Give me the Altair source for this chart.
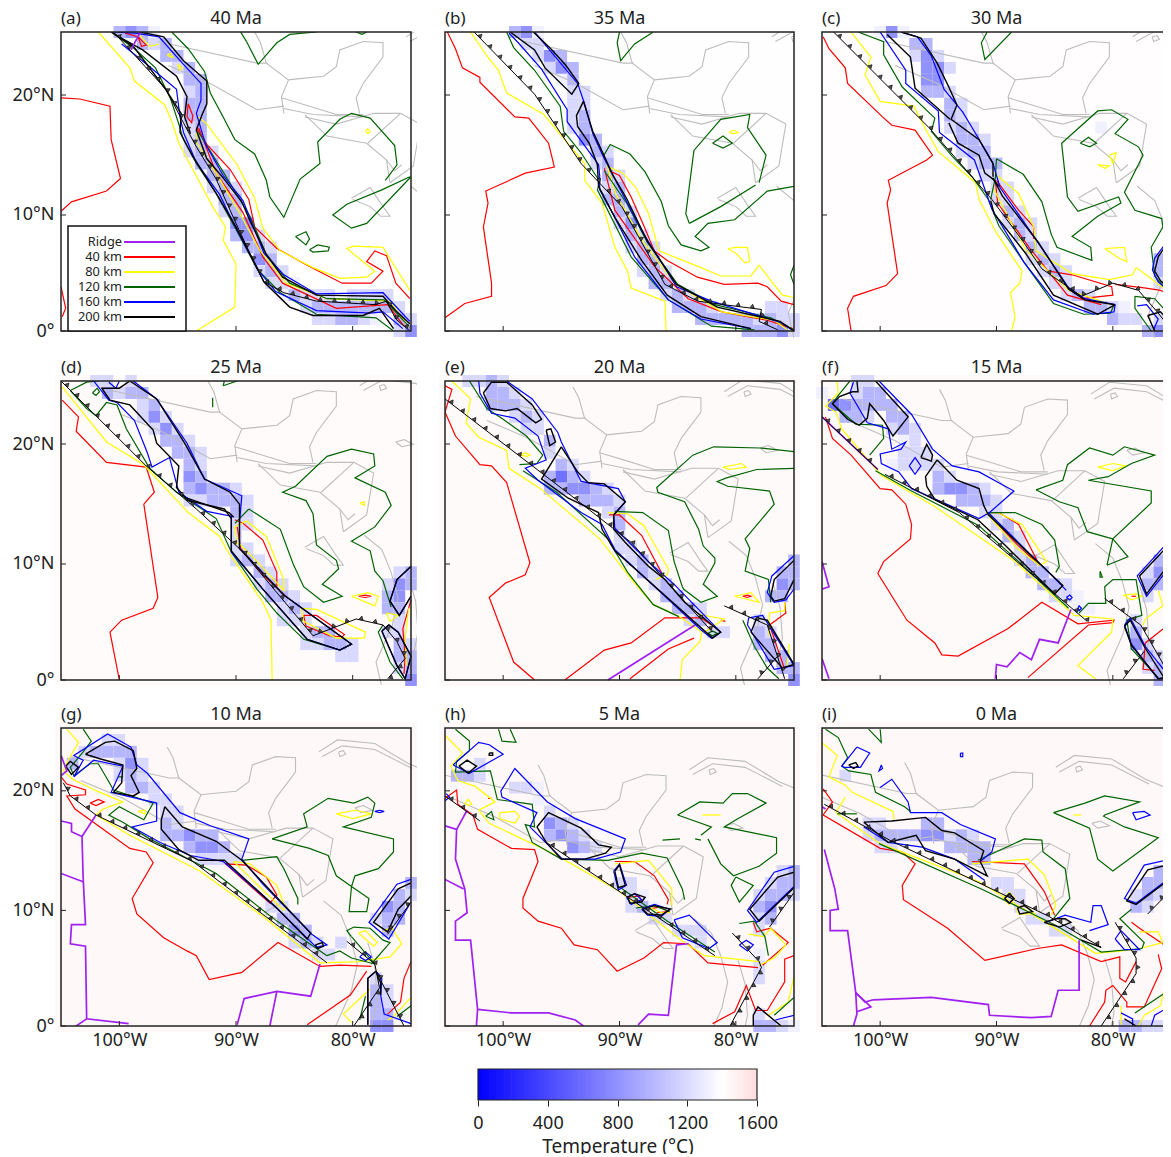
import math
import numpy as np
import pandas as pd
import altair as alt

FONT = "Noto Sans"
AGES = ["40 Ma", "35 Ma", "30 Ma", "25 Ma", "20 Ma", "15 Ma", "10 Ma", "5 Ma", "0 Ma"]
LETTERS = ["(a)", "(b)", "(c)", "(d)", "(e)", "(f)", "(g)", "(h)", "(i)"]
LEVELS = {"x": 620, "d": 800, "m": 1000, "l": 1190, "f": 1320}
BACKGROUND_T = [1402, 1406, 1410, 1425, 1430, 1430, 1438, 1440, 1442]

# coastline as seen at 25 Ma (deg W, deg N), and its shift in each panel
COAST = [
    [92.4, 25, 91.9, 24.1, 91.4, 22.4, 89.5, 21, 88.5, 21.1, 86.5, 21.3, 85.4, 22.1, 85.1, 23.5, 83.1, 24.2, 81.4, 24.1, 81.4, 22.9, 83.1, 20.7, 83.7, 19.5, 83.4, 18.2],
    [89.5, 21, 90.1, 19.6, 89.9, 18.2],
    [90.1, 19.5, 87.7, 18.8, 85.4, 18.1, 83.1, 18.1],
    [89.9, 18.6, 87.4, 18.1, 83.1, 17.9],
    [88.1, 17.9, 85.4, 17.3, 82.2, 18.2, 79.9, 18.2],
    [88.1, 18.1, 86.2, 16.3, 82.8, 15.7, 81.1, 14.3, 80.8, 12.4],
    [79.9, 18.2, 82.7, 15.7],
    [79.9, 18.2, 78.2, 17.3, 78.8, 13.8, 80.8, 12.4],
    [81.1, 14.3, 80.4, 13.4, 79.8, 13.9],
    [100.7, 24.2, 92.2, 22.4, 91.3, 22.4],
    [99.8, 22.2, 96.2, 20.7, 92.2, 18.5, 89.9, 18.8],
    [84.1, 11.1, 82.5, 12, 81.4, 10.4, 80.8, 9.6, 81.6, 9.6, 82.5, 10.4, 84, 11],
    [79.4, 24.6, 77.8, 25.6, 74.6, 25.3, 71.7, 23.6, 69.7, 22.8],
    [79.1, 24.2, 77.4, 25.1, 74.6, 24.8, 71.4, 23.2],
    [77.7, 24.6, 77.3, 24.7, 77.1, 24.4, 77.6, 24.2, 77.7, 24.6],
    [76.3, 19.9, 75.6, 20.1, 74.8, 19.7, 75.8, 19.5, 76.3, 19.9],
    [79, 12.1, 77.5, 10.9, 76.7, 9, 76.1, 6.8, 76.6, 4.6, 78, 1.5, 77.4, -1],
    [75.2, 8.6, 74.6, 6.6, 74.4, 4, 74.9, 1.6],
]
COAST_SHIFT = [(-4.0, 0), (-2.5, 0), (-1.1, 0), (0, 0), (1.6, -0.5), (2.5, -0.7), (3.5, -1.6), (4.6, -3.1), (5.5, -2.9)]

A = {
    "Ridge": [[98.2, 25, 99, 23.5]],
    "40 km": [
        [105, 19.5, 103.4, 19.4, 100.8, 18.8, 100.7, 16, 99.9, 12.75, 101.1, 11.7, 104.1, 10.8, 105, 10],
        [105, 3.7, 104.6, 1.9, 104.9, 1.2],
        [93.4, 17, 92.5, 15.6, 90.5, 13.5, 88.9, 11, 88.4, 8.7, 86.5, 6.9, 83.7, 5.4, 80.9, 4, 78.4, 4, 77.4, 5, 78.8, 5.8, 78.1, 6.7, 77.1, 6.3, 76.3, 4, 75.1, 2.7],
        [94.1, 19, 93.7, 18, 93.8, 17.4, 94.2, 17.9, 94.1, 19],
        [99.5, 24.9, 98.4, 24.6, 97.7, 23.9, 98.1, 23.8, 98.4, 24.6],
        [93.2, 17, 91.7, 13.2, 89.4, 9.9, 87.7, 6.2, 86, 4, 81.4, 1.9, 77, 2.2, 75.6, 0.4],
    ],
    "80 km": [
        [101.8, 25, 99.1, 22, 98.7, 20.9, 96.1, 18.9, 95.5, 17.5, 94.9, 15.7, 93.7, 13.5, 92, 10.4, 90.9, 8.7, 91.1, 7.6, 90, 5.6, 90.1, 2, 93.4, 0],
        [93.2, 17.9, 92.5, 17.3, 89.9, 13.9, 88.4, 11.1, 87.7, 8.6, 86.2, 6.7, 83.4, 5.3, 81.1, 4.4, 78.8, 4.5, 78.1, 5, 80.5, 6.9, 79.9, 7.1, 77.4, 7, 76.2, 5.1, 75.1, 3.4],
        [93.4, 16.6, 93.4, 15.8, 91.7, 13.2, 89.7, 9.9, 88, 6.8, 85.7, 4, 82.2, 2.7, 76.8, 2.5, 75.2, 0.3],
        [98.4, 24.9, 97.4, 23.8, 96.6, 24],
        [95.9, 23.1, 95.6, 22.9, 95.4, 22.9, 95.6, 23.2, 95.9, 23.1],
        [95, 22.3, 94.8, 21.8, 94.6, 22, 95, 22.3],
        [78.9, 16.7, 78.7, 16.9, 78.5, 16.7, 78.7, 16.5, 78.9, 16.7],
    ],
    "120 km": [
        [95.5, 25, 94.1, 23.6, 92.7, 21.7, 92.2, 19.9, 91.1, 17.9, 90.1, 16, 88.4, 14.8, 87.4, 12.6, 87.1, 11.2, 85.9, 9.5, 84.5, 12.7, 82.8, 14, 83, 15.8, 81.1, 17.7, 80.1, 18.2, 78.5, 17.8, 76.4, 15.5, 76.2, 13.9, 77.2, 12.6],
        [75.1, 12.9, 77.5, 11.8, 80.5, 10.6, 81.7, 9.7, 80.1, 8.6, 78.8, 9, 75, 12.9],
        [89.1, 24.2, 88.1, 22.3, 86.5, 24.1, 85.4, 24.8, 83.1, 25],
        [89.1, 24.2, 89.6, 25],
        [79.7, 25, 79.2, 24.8, 78.8, 25],
        [84.9, 7.9, 84, 8.3, 83.7, 7.7, 84, 7.2, 84.9, 7.9],
        [83.7, 6.8, 83, 7.2, 82, 7, 82.1, 6.7, 83.4, 6.6, 83.7, 6.8],
        [100.7, 25, 98.7, 23.6, 96.9, 22, 95.6, 19.4, 95, 17.6, 94.5, 16, 93.4, 14, 91.7, 11.5, 90, 8.5, 88.2, 5.2, 86.2, 3.2, 83.1, 1.4, 78, 1.1, 76.5, 0],
        [93.2, 16.6, 91.1, 13.3, 88.8, 9.6, 87.4, 6.4, 85.4, 4, 82.2, 2.7, 77.3, 2.6, 75.2, 0.4],
    ],
    "160 km": [
        [99.8, 24, 97.4, 22.1, 95.1, 20.2, 94.8, 17.9, 94.5, 16.6, 93.4, 14.1, 91.4, 11.4, 90, 8.6, 88.1, 5.1, 86.6, 3.3, 83.1, 1.7, 78.5, 1.5, 77.4, 1.6, 75.7, 0.2],
        [100.7, 25, 98.6, 24.9, 96.6, 24.6, 94.6, 22.4, 93, 20.7, 93, 19.3, 93.4, 18.2, 92.6, 15.6, 91.1, 13, 89.4, 10.9, 87.6, 6.5, 85.9, 4.7, 83.1, 3.1, 77.4, 3.2, 75.1, 0.8],
    ],
    "200 km": [
        [98.2, 25, 96.2, 24.6, 94.5, 22.6, 92.5, 20.9, 92.5, 19, 92.9, 18.1, 93.4, 16.8, 92.5, 14.4, 91.1, 12.8, 89.5, 10.8, 88.8, 9.2, 87.4, 6.4, 86, 4.5, 83.1, 3, 77.4, 2.9, 76.3, 1.7, 75.1, 0.6],
        [100.7, 25, 98.8, 23.8, 96.1, 20.3, 94.7, 18.2, 94.8, 16.6, 93.7, 14.6, 91.7, 11.5, 90, 8.7, 88.2, 5.3, 87.6, 4.1, 85.4, 2, 83.4, 1.3, 79.1, 1.3, 77.7, 1.9, 76.5, 0.2],
        [100.4, 24.8, 98, 23.5, 95.1, 21.3, 94.2, 19.6, 94.4, 17.9, 93.9, 16.5],
    ],
    "trench": [[100.5, 25, 96, 20.2, 94.5, 17.4, 93.4, 15.4, 91.7, 12.7, 90, 9, 88.2, 5.2, 87.6, 4.1, 85.9, 3.2, 83.1, 2.5, 78, 2.2, 77.1, 2.5, 76.3, 1, 75.1, 0]],
}
B = {
    "40 km": [
        [104.8, 25, 104.1, 23.6, 103.5, 22, 102, 21.2, 102, 20.8, 99, 17.9, 97.8, 17.8, 96.1, 15.7, 95.6, 13.7, 98.1, 13.2, 101.5, 11.7, 101.3, 10.7, 101.7, 8.7, 101, 4, 101, 2.9, 103.3, 2.3, 105, 1.1],
        [90.9, 13.4, 90, 13, 89, 11.2, 88, 9, 87, 6.7, 85.9, 5.9, 83.3, 4.5, 81, 3.9, 78.1, 4, 77.3, 3.7, 76.1, 2.5, 75, 2.2],
        [91.3, 13.6, 90.4, 10.1, 87, 5.4, 84.1, 2.7, 81.2, 1.6, 77.3, 0.9, 75.1, 0.2],
    ],
    "80 km": [
        [102.8, 25, 101.4, 23, 100.4, 21.8, 99.7, 19.9, 96.5, 18.1, 93, 14, 93, 12.6, 91.5, 10.7, 90.4, 7, 89.3, 5, 89, 3.6, 86.1, 2.5, 86, 0],
        [90.9, 13.7, 89.7, 13.2, 88.6, 12, 87.5, 9.8, 86.6, 6.7, 83, 5.3, 81.3, 4.6, 78.7, 4.6, 78, 5.5, 77.3, 4.6, 76, 3, 75, 2.8],
        [80.7, 6.9, 79.9, 7, 79, 7, 78.8, 5.8, 79.2, 5.7, 80, 6.5, 80.7, 6.9],
        [80.6, 16.6, 80.2, 16.8, 79.8, 16.6, 80.2, 16.5, 80.6, 16.6],
        [91.1, 13.9, 90.3, 11.4, 88, 7.5, 85.2, 3.9, 81.2, 1.6, 76.7, 0.9, 75.6, 0.1],
    ],
    "120 km": [
        [99.7, 25, 99.1, 23.7, 97.3, 21.8, 95.1, 18.8, 94.8, 16.7, 93.3, 14.9, 91.7, 12.5, 91.9, 11.8, 90.7, 9.5, 89, 6.2, 85.8, 2.6, 82.1, 0.4, 78.4, 0.1],
        [91.4, 14.6, 90.8, 15.6, 89.1, 14.8, 87.8, 13.3, 86.4, 10.8, 85.8, 8.8, 84.7, 7.2, 83, 6.7, 82.3, 7, 83.5, 7.9, 82.4, 9, 80.1, 9.3, 77.3, 11.7, 75, 12.1],
        [84, 9, 84.3, 9.8, 83.6, 15.1, 81.3, 17.7, 78.8, 18.1, 79, 17, 77.4, 14.7, 78, 12.4],
        [84, 9, 81.3, 10.4, 78.3, 12.2],
        [82, 15.7, 81.1, 16.3, 80.3, 15.7, 81.1, 15.3, 82, 15.7],
        [90, 25, 90.2, 24.1, 89.9, 22.6, 88.7, 24, 87.1, 25],
        [75, 5.5, 75.3, 4.7, 75, 3.9],
        [91.3, 13.4, 89.4, 10.7, 87.6, 7.4, 85, 3.9, 81.8, 2.2, 77, 1.1, 75, 0.1],
    ],
    "160 km": [
        [99.5, 24.9, 98.7, 24.1, 96.7, 21.9, 94.5, 18.5, 94.5, 17.5, 91.8, 13.9, 91.7, 13, 91.7, 11.8, 90.4, 9.5, 88.7, 6.2, 85.8, 2.6, 83, 1, 78.7, 0.2],
        [97.3, 25, 93.6, 20.7, 93, 19, 92.3, 16.5, 91.4, 14.6, 90.5, 12.9, 88.1, 8.4, 85.1, 3.7, 82.1, 2.5, 76.1, 0.7, 75, 0],
    ],
    "200 km": [
        [99.4, 25, 97.3, 23.5, 96.4, 22, 94.1, 19.8, 93.5, 20.7, 94.6, 22.2, 95.8, 23.5, 97.4, 25],
        [93.1, 19.2, 93.7, 18, 93.6, 17.1, 92.6, 15.7, 91.9, 13.9, 91.8, 12.1, 90.4, 9.5, 88.1, 5.9, 85.9, 3, 83, 1.2, 78.7, 0.2],
        [93.1, 19.2, 92.3, 16.7, 91.3, 14.6, 90.5, 12.9, 89.4, 11.1, 87.6, 7.5, 85.1, 3.9, 81.6, 2, 76.2, 0.8, 75, 0],
    ],
    "trench": [[102.5, 25, 97.3, 19.8, 93.3, 14, 89.8, 10.4, 86.1, 3.9, 83.3, 2.5, 81, 2.2, 77.8, 1.8, 78, 0.8, 76.4, 0.1]],
}
C = {
    "40 km": [
        [104.9, 24.6, 104.4, 23.6, 103, 22, 102.8, 20.7, 99.8, 17.9, 99, 17.2, 97, 16.8, 95.5, 14.7, 96, 14.3, 99.3, 12.6, 99.1, 11.8, 99.4, 10.7, 98.5, 4.8, 99.5, 3.8, 102.3, 2.9, 102.8, 1.9, 102.5, 0],
        [90, 12.6, 88.1, 10.1, 86.8, 8.7, 86.8, 7.7],
        [85.5, 5, 83.5, 4.7, 80.1, 3.7, 80, 3, 82.7, 2.7],
        [79.8, 3.9, 77.3, 3.6, 75.9, 3.4, 75, 3],
        [90.1, 12.6, 89.9, 10.7, 87.2, 7, 83.9, 3, 81, 2.2],
    ],
    "80 km": [
        [102.5, 25, 100.8, 22.9, 101.3, 21.4, 100, 19.2, 97.1, 18.8, 96, 16.7, 95, 15, 91.8, 12.4, 91.5, 11, 90, 8.2, 87.8, 5, 88, 4, 88.8, 3.2, 88.4, 1.2, 88.7, 0],
        [90.3, 13.3, 88.1, 11.5, 86.8, 8.7, 86.6, 6.7, 83.5, 4.8, 80.3, 4.3, 78.3, 4.7, 78, 5.3, 77, 4.6, 75, 3.1],
        [80.7, 6.9, 79, 7, 78.8, 5.8, 79.5, 6.1, 80.7, 6.9],
        [81.3, 13.9, 80.7, 13.6, 80.3, 13.8, 81.3, 13.9],
        [80.3, 14.7, 79.7, 14.9, 80, 14, 80.3, 14.7],
        [90.3, 12, 87.5, 6.8, 83.8, 3.4, 80.1, 2.2],
    ],
    "120 km": [
        [101.9, 25, 99.7, 24.2, 99.7, 23.1, 98.1, 20.4, 95.3, 17.8, 95.6, 16.7, 93.8, 14.6, 92.1, 12.9, 90.7, 11, 89.8, 8.8, 87.6, 5.7, 85.1, 2.3, 82.5, 1.4, 80.2, 1.5, 79.9, 2.2],
        [90, 14.4, 87.7, 13.1, 86.1, 10.8, 85.3, 8.1, 84.8, 7, 81.8, 5.9, 81.9, 7, 83.5, 7.9, 81.3, 9.6, 79.3, 10.7, 79.5, 11.2, 83, 10, 83.9, 11.2, 84.4, 15.7, 81.3, 18.4, 80.1, 18.5, 78.7, 17.7, 79.8, 16.5, 77.8, 15.4, 77.4, 14.7, 79, 11.6, 78.1, 10.1, 75.8, 9.4, 75.7, 8.7, 76.7, 7, 76.4, 4.6, 75.1, 3.1],
        [90, 14.4, 90.1, 12.8, 90.5, 11],
        [90.8, 25, 91.3, 24.1, 91, 22.7, 88.7, 25],
        [82.8, 15.7, 82.1, 16.2, 81.4, 15.7, 82, 15.4, 82.8, 15.7],
        [78.1, 2.9, 78.1, 1.9, 76.7, 0],
        [78.1, 2.9, 76.4, 2.7, 75, 1.2],
    ],
    "160 km": [
        [100, 25, 97.8, 21.8, 97.8, 20.7, 95, 18.4, 94.9, 16.6, 91.9, 14.3, 91.2, 12.4, 90.4, 10.2, 87.6, 5.7, 85.1, 2.6, 81.7, 1.4, 79.9, 1.6, 79.8, 2.2],
        [98.2, 25, 96.8, 24.6, 95.6, 23, 94.5, 20.2, 92.9, 18.3, 91.6, 16.2, 90.3, 14, 89.7, 12, 86.5, 7.5, 83.8, 3.6, 82.4, 2.7, 79.8, 2.2],
        [75, 7.9, 76.4, 6.1, 76.6, 5.1, 76.1, 4.1, 75, 3.2],
        [77.9, 2.1, 77.1, 2.2, 76.1, 1, 76.5, 0.1],
    ],
    "200 km": [
        [98.2, 25, 96.5, 24.5, 95.1, 22.4, 94.1, 20.4, 93.4, 18.9, 93.9, 17.7, 91.5, 16, 90.3, 14, 90.3, 12.9],
        [99.4, 24.8, 97.4, 22.9, 97, 20.3, 94, 17.7],
        [94.1, 17.4, 93.3, 15.7, 91.5, 14.7, 91, 13.2, 90.3, 12.7, 89.8, 12.1],
        [90.5, 10.9, 90.2, 9.8, 87.5, 6.5, 85.1, 3, 81.3, 1.4, 79.8, 2.2],
        [90.3, 12.8, 89.5, 11.3, 86.4, 7.4, 83.8, 3.5, 82.4, 2.6, 79.8, 2.2],
        [75, 7.8, 76.1, 6.2, 76.4, 5, 75.9, 4.2, 75, 3.4],
        [77, 1.3, 75.9, 1.6, 75, 0.7],
        [76.4, 0, 77, 1.3],
    ],
    "trench": [[104, 25, 95.8, 17, 90.4, 11, 87.8, 7.6, 86.1, 5.2, 82.7, 2.9, 80, 4, 77.8, 3.4, 76.1, 1.5, 75.3, 0.5, 75, 0]],
}
D = {
    "40 km": [
        [104.9, 23.4, 103.5, 22, 103.7, 20.8, 101.1, 18.2, 97.7, 17.8, 97, 15.7, 97.9, 14.7, 96.7, 6.9, 97.1, 6, 99.8, 5, 100.8, 4, 100, 0],
        [90.1, 13.4, 89.4, 13.1, 87.7, 11.7, 86.5, 9, 86.5, 7.8],
        [84.2, 5.4, 83.1, 5.4, 80.7, 3.8, 80.9, 3.6, 82, 3.7, 84, 4.5, 84.2, 5.4],
        [79.5, 7, 78.9, 7.1, 78.4, 7, 78.9, 6.9, 79.5, 7],
        [75, 6.7, 75.7, 4.3, 75.5, 2, 75.6, 0.5],
        [89.9, 12.8, 89.6, 11, 87.5, 8.6, 85.5, 6.8],
    ],
    "80 km": [
        [104.9, 24.5, 101.1, 19.9, 97.9, 18, 94.1, 14, 91.4, 12, 90.8, 10.9, 87.7, 6.5, 87, 5, 86.9, 0],
        [89.9, 11.3, 90.1, 12.8, 89.1, 13.3, 87.4, 12, 85.9, 8.4, 85.9, 7.6],
        [84.4, 6, 83.1, 5.9, 78.9, 4, 79, 3.5, 81.4, 3.5, 84.2, 4.9, 84.4, 6],
        [80.1, 7, 78.7, 7.3, 77.8, 7, 78.1, 6.2, 80.1, 7],
        [77.1, 5.6, 76.1, 5.4, 76.8, 4.9, 77.1, 5.6],
        [79.4, 14.8, 79, 14.9, 79, 14.6, 79.4, 14.8],
        [75.2, 6, 75.5, 3.5, 75.4, 1.2],
        [89.8, 11.5, 88.3, 10, 85.8, 7.4],
    ],
    "120 km": [
        [104.2, 24.2, 102.8, 22.7, 102, 22.1, 101.1, 23.2, 100.2, 23, 99.4, 21, 97.4, 17.7, 95.1, 15.7, 91.7, 13.5, 90.4, 10.7, 88.2, 7.6, 86.5, 5.6, 84.2, 3.4, 81.1, 2.5, 80.1, 3],
        [104.2, 24.2, 102.8, 24.9, 101.8, 25],
        [102.3, 24, 101.9, 24.4, 101.7, 24.1, 102, 23.8, 102.3, 24],
        [91.1, 24.6, 89.9, 25],
        [91.1, 24.6, 91, 25],
        [92, 23.6, 92, 22.8],
        [88.9, 14.3, 86.2, 12.6, 85.1, 9.7, 84.2, 7.8, 82.5, 6.5, 80.9, 7, 82.6, 8, 81.2, 9.3, 81.4, 10, 83.1, 11.3, 83.4, 13.9, 84, 15, 86, 15.7, 84.9, 16.2, 82.2, 18.7, 80.1, 19.3, 78.2, 18.9, 78.1, 17.9, 79.8, 16.9, 77.2, 15.7, 76.7, 14.6, 78.1, 12.8, 80.1, 11.6, 78.5, 10.8, 78.1, 9.1, 77.4, 8.3, 76.7, 6.1],
        [88.9, 14.3, 90.1, 13.1],
        [77.4, 4.6, 77.8, 4, 76.8, 1.5, 75.7, 0.1],
    ],
    "160 km": [
        [98.8, 25, 96.8, 23.5, 94.2, 19.8, 92.7, 16.8, 89.5, 15.4, 89.7, 13.2, 89.7, 11, 85.9, 7.1, 80.1, 3, 81.1, 2.5, 83.9, 3.4, 87.7, 7.6, 90.4, 10.7, 90.4, 13.7, 92.5, 14.1, 94.9, 15.7, 95.7, 18.6, 97.2, 17.8, 97.6, 19, 98.7, 21.7, 100.2, 23.2, 100.9, 23.4, 102.2, 25],
        [100.9, 24.9, 100.3, 24.4, 100, 25],
        [75, 9.5, 76.2, 8.4, 76.8, 6.6, 76, 5.4, 75, 7],
        [77.5, 4.1, 76.9, 4.6, 76.1, 4, 75, 2, 75.5, 0.1, 76.2, 1.2, 77.5, 4.1],
    ],
    "200 km": [
        [99.1, 25, 96.8, 23.5, 94.4, 19.8, 92.7, 16.8, 90.5, 15.7, 89.7, 14.7, 89.7, 11, 85.9, 7.1, 80.1, 3, 81.1, 2.5, 83.9, 3.4, 87.7, 7.6, 90.4, 10.8, 90.4, 13.5, 91, 14.3, 94.1, 15, 95.1, 16.1, 94.9, 17.9, 96.8, 19.8, 97.1, 20.9, 99.1, 23, 100.8, 23.4, 101.5, 24.4, 100, 24.4, 99.1, 25],
        [94.2, 15.2, 90.6, 14, 90.2, 13.6],
        [75, 9.5, 76.2, 8.4, 76.8, 6.6, 76, 5.4, 75, 7],
        [77.5, 4.1, 76.9, 4.6, 76.1, 4, 75, 2, 75.5, 0.1, 76.2, 1.2, 77.5, 4.1],
    ],
    "trench": [[105, 25, 97.7, 17.9, 93.4, 14.3, 89.5, 10.8, 83.4, 3.7, 79.7, 5.1, 77.4, 4.6, 76.2, 3.2, 75.5, 1.8, 77, 0.1]],
}
E = {
    "Ridge": [[91, 0, 83.5, 4.6]],
    "40 km": [
        [105, 24.6, 104.4, 24.3, 105, 22.4, 104.1, 20.4, 102, 18, 101, 17.9, 99.7, 16.5, 97.7, 9.8, 98.1, 8.8, 99.8, 8.1, 101.2, 6.9, 99.1, 1.5, 97.3, 0],
        [94.7, 0, 91.3, 2.5, 89, 3.1, 86.1, 5.2, 83, 5.2, 82.1, 4.6],
        [89.1, 0.1, 85.8, 2.6, 83.6, 3.5],
        [90.9, 13.8, 90, 13.8, 88.1, 12.1, 86.4, 9, 86.4, 8.8],
        [79.4, 7, 79, 7.1, 78.7, 7, 79, 6.9, 79.4, 7],
        [81.3, 5, 80.9, 4.9],
        [75.8, 6.5, 75.7, 5.6, 77.1, 4.6, 76.4, 2.6, 75.8, 0.9],
    ],
    "80 km": [
        [104.4, 25, 102.8, 23.5, 103.2, 21.5, 102.1, 20.3, 99.7, 19.2, 99.5, 17.7, 96.8, 16, 91.7, 11.8, 88.8, 8.2, 87.1, 6.3, 85, 5.4, 82.9, 4, 83.1, 3.2, 84.6, 1.7, 84.8, 0],
        [91, 14, 89.3, 13.9, 87.9, 12.9, 85.8, 9.3, 85.9, 8.8, 86.9, 8.4],
        [83.3, 5.5, 81, 5.1, 82.7, 4],
        [80.1, 7, 78.7, 7.3, 78, 6.5, 80.1, 7],
        [98.5, 18.8, 98.1, 19, 97.7, 18.8, 98, 18.7, 98.5, 18.8],
        [81.1, 17.8, 79.5, 18.1, 79.1, 17.8, 80.6, 17.6, 81.1, 17.8],
        [75.8, 6.5, 75.8, 5.8, 77.1, 5.6, 77.2, 3.7],
        [75.4, 3, 75.6, 1.2],
    ],
    "120 km": [
        [102.9, 25, 101.4, 22.7, 100, 21.8, 98, 20.4, 96.6, 18.8, 97.1, 18.1, 98.6, 18],
        [98.3, 17.5, 95.4, 15.7, 91, 11.8, 89.3, 9, 87.1, 6.3, 84.9, 5.3],
        [90.4, 14.1, 88, 14, 85.8, 12.5, 85.3, 9.9, 84.6, 7.8, 84.5, 7.6, 83, 6.5, 81.6, 7, 82.8, 8, 81.8, 9.8, 81.8, 10.2, 82.8, 11.2, 83.2, 12.6, 84.4, 14.9, 86.7, 15.7, 86.8, 16.1, 83.7, 18.8, 81.9, 19.5, 77.9, 19.4, 75, 19.1],
        [75, 17.7, 78.2, 17.6, 80.8, 16.9, 81.6, 16.6, 80.7, 16.2, 77.1, 15.8, 76.7, 14.7, 79.2, 11.8, 78.8, 11, 79.2, 9.1, 77.2, 8.4, 77, 6.5],
        [79.4, 5, 78.4, 2.8, 77.3, 1, 76.3, 0.1],
        [82.4, 3.9, 82, 4.1, 81.6, 3.9, 82, 3.7, 82.4, 3.9],
    ],
    "160 km": [
        [102.1, 25, 102, 24, 101, 22.3, 99, 21.9, 97, 20.4, 96.3, 18.4, 98.1, 17.7, 97, 16.7, 93.3, 14, 91.5, 13, 90.4, 10.9, 83, 4.2, 82.1, 3.5, 81.3, 4, 85.3, 8, 87.3, 9.7, 90.4, 12.7, 90.5, 13.8, 89.5, 14.9, 90.1, 16, 93.3, 16.6, 95, 19.9, 95.3, 20.7, 97.5, 23.5, 99.7, 25],
        [75, 10.4, 76.9, 8.7, 77.3, 7.3, 76.7, 6.5, 75.7, 6.7, 75, 7.6],
        [78.9, 5.2, 77.7, 5.4, 75, 1.2, 76.7, 0.9, 79, 4.6, 78.9, 5.2],
    ],
    "200 km": [
        [101.7, 24, 101, 24.9, 99.7, 24.9, 97.5, 23, 96.7, 21.8, 97.2, 21.5, 98.8, 22.7, 99.8, 22.5, 101.1, 22.7, 101.7, 24],
        [96.3, 20.9, 95.9, 21, 95.5, 19.9, 96, 19.6, 96.3, 20.9],
        [95, 19.5, 93.6, 17.4, 92.7, 16.5, 91.3, 16.4, 89.5, 14.9, 90.5, 13.8, 90.5, 12.6, 89.5, 11.5, 87.5, 9.5, 86.1, 8.4, 84.4, 6.5, 81.3, 4, 82, 3.5, 90.4, 10.8, 91.5, 12.6, 91.8, 14, 94.4, 15.2, 96.7, 16.8, 95, 19.5],
        [75, 10, 76.7, 8.4, 77, 7, 76.7, 6.6, 75.8, 6.8, 75, 8.4],
        [78.7, 4, 76, 1, 75, 1.3, 77.3, 5, 78.2, 5.2, 78.7, 4],
    ],
    "trench": [[105, 23.5, 94.4, 15.6, 89, 11.5, 82, 4], [81, 6.2, 77.3, 4.6, 75.8, 0.1], [78.1, 0.1, 76.4, 2]],
}
F = {
    "Ridge": [[105, 22, 100.2, 17.6], [105, 9.9, 104.4, 7.8, 105, 7.6], [105, 1.8, 104.4, 0.1], [90.1, 0.1, 90, 1.3, 89.1, 1.1, 88, 2.3, 87, 1.7, 86.3, 3.4, 84.7, 3.1, 83.6, 5.9]],
    "40 km": [
        [104.7, 22, 104.1, 20.2, 102.5, 18.8, 100, 16, 99, 15.9, 97.8, 14.7, 97.3, 13, 97.4, 11.8, 99.7, 9.9, 100.2, 8.9, 97.7, 5, 95.3, 3.1, 94.7, 2.1, 93.3, 2, 89, 4.3, 86.1, 6.5, 83, 4.7, 79.9, 5, 80, 4.8, 82.1, 4.6, 87.3, 0.2],
        [90.8, 14, 89.8, 14, 88.1, 13, 86.3, 9.6],
        [78.4, 7, 78, 7],
        [75, 4.8, 77.2, 3.1, 77.4, 0.9, 76.4, 0.8],
        [90.8, 14, 88.2, 11.3, 86.3, 9.6],
    ],
    "80 km": [
        [103.7, 25, 103.6, 24, 104.7, 22.9, 103.8, 22.4, 103.3, 21, 99.9, 17.1, 95.3, 14.5, 88.4, 9.9, 83.3, 5.4, 80, 5.1, 80.1, 4, 83, 1.2, 81.5, 0.1],
        [90.9, 14, 89.9, 14, 87.8, 13, 85.7, 9.9, 86.3, 9.6],
        [79.1, 7.1, 78, 7.2, 77.5, 7, 78.4, 6.7, 79.1, 7.1],
        [76.1, 7.5, 75.7, 6.2, 77.2, 5.1, 77.4, 4.6],
        [81.3, 17.8, 80, 18.1, 78.9, 17.9, 80, 17.5, 81.3, 17.8],
        [90.9, 14, 88.2, 11, 86.3, 9.6],
    ],
    "120 km": [
        [102.6, 25, 103.6, 23.8, 104.1, 23.1, 102.1, 21.4, 99.8, 21.3, 99.7, 20.2, 100.9, 18.8],
        [100.4, 17.5, 97.3, 15.8, 91.5, 12.9, 88.1, 9.9, 83.8, 6],
        [90.7, 14, 88.4, 14, 86.1, 13, 85, 11.7, 84.6, 9.5, 84.9, 9],
        [86.6, 15.9, 84.6, 14.9, 83, 14.4, 82.2, 12.4, 80.4, 11.9, 80, 11.8],
        [80.5, 9.6, 78.7, 10.3, 80, 11.8, 76.7, 14.8, 76.7, 15.8, 82.1, 16.7, 80.4, 17, 78.4, 18.1, 76.4, 18.8, 79, 19.5, 80, 18.8, 82, 19.4, 83.9, 18, 84.3, 16.7, 86.6, 15.9],
        [80.5, 9.6, 80, 11.8],
        [82.9, 5.6, 82.1, 6.4, 80.6, 6.4, 80.7, 7.8, 80, 8.4, 78, 8.4, 77.5, 5.4, 78.8, 5, 78.4, 2.6, 76.1, 0.2],
        [81.1, 9.1, 80.9, 8.6, 81.1, 8.6, 81.1, 9.1],
        [90.7, 14, 87.5, 10.8, 85.5, 9],
    ],
    "160 km": [
        [102.3, 24.9, 102.6, 24, 101.1, 21.5, 99.3, 21, 99, 19.3, 97.8, 19.9, 98.2, 19.3, 100, 18.9, 99.9, 18.1, 98.4, 17.4, 97.3, 16, 91.5, 13.5, 90.6, 14, 88.5, 15.8, 91.5, 17.4, 93.8, 17.9, 95.5, 19.3, 97.3, 22.2, 100.1, 25],
        [97.5, 17.9, 97, 18.6, 96.5, 17.9, 97, 17.2, 97.5, 17.9],
        [75, 11.8, 77.9, 8.7, 77.1, 7, 75, 9.6],
        [79, 4.6, 78.5, 5.2, 77.2, 2.8, 75, 0.1, 76.1, 0.1, 78.4, 3, 79, 4.6],
        [90.7, 14, 85, 8.5, 84, 7.5],
        [84, 6.9, 83.7, 7.1, 83.5, 6.9, 83.7, 6.7, 84, 6.9],
        [83, 6, 82.9, 6.2, 82.7, 6, 82.9, 5.8, 83, 6],
    ],
    "200 km": [
        [100.4, 25, 97.6, 22, 98.9, 20.4, 99.7, 21.7, 100.9, 23.1, 101.1, 21.9, 101.8, 21.3, 102.8, 21.8, 104.1, 23.1, 103.5, 23.7, 102.4, 24.1, 101.9, 24.1, 102, 25],
        [96.5, 18.6, 96, 19.7, 95.5, 18.8, 95.6, 18.3, 96.5, 18.6],
        [95.1, 18.4, 93.4, 16.7, 91.5, 16, 91.1, 14.6, 90.7, 13.8, 84.3, 7.9, 85, 7.2, 89.3, 11.3, 91.6, 13.4, 95.3, 15.1, 96, 16.2, 96.1, 17, 95.1, 18.4],
        [75, 11.5, 77.7, 8.7, 77.1, 7.2, 75, 9.9],
        [79, 4.5, 78.5, 5, 77.3, 2.8, 75.6, 0.2, 76.1, 0.1, 78.4, 2.9, 79, 4.5],
    ],
    "trench": [[99.6, 17.2, 93.2, 14, 82.2, 4.9], [80.7, 6.8, 77.6, 4.6, 75, 0.2], [79.1, 0.1, 77.3, 2.4], [105, 22, 100.2, 17.6]],
}
G = {
    "Ridge": [
        [105, 22.7, 104.5, 21.4, 105, 21],
        [105, 17.2, 104.1, 17, 104.1, 16.3, 103.2, 15.9, 103.1, 12.4, 102.9, 8.5, 104.1, 8.5, 104.2, 6.9, 102.9, 6.7, 102.8, 0.6, 99.2, 0.2],
        [102.8, 0.6, 103.7, 0],
        [105, 12.8, 103.1, 12.1],
        [102, 17.7, 103.2, 15.9],
        [89.9, 0.1, 89.3, 2.3, 86.5, 2.9, 83.6, 2.5, 82.8, 5.2],
        [87.1, 0, 86.5, 2.9],
    ],
    "40 km": [
        [105, 20.9, 104.5, 20.3, 102.9, 19.8, 102.9, 19.4, 104.5, 19.3, 103.8, 18.2, 99.1, 14.9, 97.7, 14.6, 97.1, 13.7, 98.9, 10.7, 98.5, 9.4, 96.2, 7.4, 94.2, 6.3, 93.4, 5.9, 92.3, 3.9, 89.5, 4.5, 86.4, 7, 82.8, 5, 81.1, 5.1, 78.4, 5],
        [102.5, 18.7, 101.8, 19, 101.3, 18.8, 102, 18.5, 102.5, 18.7],
        [90.9, 13.6, 89.1, 13.5, 87.4, 12.5, 86.5, 11, 87.1, 10.3, 90.9, 13.6],
        [78.8, 4.6, 80.2, 2.6, 83.9, 0.1],
        [75, 5.4, 75.6, 4, 75.9, 2, 77, 1],
    ],
    "80 km": [
        [104.5, 24.9, 103.5, 23.8, 104.5, 22.1, 104.8, 21.4, 104, 20.7, 101.9, 19.7, 99.7, 18.8, 101.4, 18.2, 102, 17.7, 99.1, 16, 93.1, 13, 87.7, 9.2, 82.8, 5.3, 79.4, 5.4, 76.8, 5.8, 75.8, 6.9, 76.7, 8.3, 77.4, 7.9],
        [98.4, 18, 97.8, 18.1, 97.8, 17.8, 98.4, 18],
        [90.2, 13.8, 88.8, 13.6, 86.5, 11.8, 85.8, 10, 85.9, 9.7, 90.2, 13.8],
        [79.5, 7.8, 78.9, 8, 77.9, 7, 78.2, 6.7, 79.5, 7.8],
        [81.4, 17.8, 79.8, 18.1, 78.4, 17.8, 80, 17.4, 81.4, 17.8],
        [78.5, 3.1, 80.8, 1, 80.1, 0.3],
        [75, 2.4, 76.6, 0.7, 77, 0.5],
    ],
    "120 km": [
        [103.1, 24.9, 102.4, 23.9, 103.1, 23, 104.2, 21.7, 103.9, 21, 102.5, 22, 101.8, 22, 101.2, 21, 100.5, 19.8, 97.1, 18.7, 97.9, 17.3, 100, 18.4, 100.9, 17.7, 99.7, 17.1, 97.4, 15.7, 91.7, 12.8, 86.5, 8.8, 82.2, 5.9],
        [89.5, 13.9, 86.5, 14.2, 85.9, 13.2, 84.7, 10.7, 84.7, 10.2],
        [86.9, 15.7, 83.9, 16.7, 84.2, 17.8, 82.1, 19.1, 79.9, 18.7, 78.7, 19.2, 78.1, 18.7, 78.4, 17.5, 80.8, 16.7, 76.5, 15.7, 76.5, 14.6, 77.8, 13.2, 79.8, 12.6, 80.1, 11.7, 78.6, 10.7, 78.8, 9.6, 80.3, 9.6, 80.1, 11.7],
        [86.9, 15.7, 83.7, 14.9, 82.1, 14.3, 81.4, 12.6, 80.1, 11.7],
        [82.2, 5.9, 81.1, 6.3, 80.1, 5.7, 78.1, 5.2],
        [80.1, 7.5, 80.5, 8, 79.9, 8.3, 78.5, 8.2, 77.4, 7.2, 76.8, 7, 78.4, 5.2],
        [80.1, 7.5, 78.1, 5.2],
        [100.1, 20.9, 99.7, 20.9],
        [75, 1.7, 76.2, 0.8],
        [78.9, 2.5, 79.4, 0.5],
    ],
    "160 km": [
        [103.9, 20.9, 103.1, 22.3, 103.9, 22.7, 101, 24.5, 99, 23.4, 98.5, 21.9, 97.6, 21.2, 94.8, 17.9, 92.2, 16.8, 88.9, 15.7, 89.5, 14, 87.7, 11.9, 83.5, 7.7, 82.2, 6.8, 83.1, 6.6, 86.2, 9.6, 90, 12.9, 91.1, 13.8, 93.9, 14.3, 96.5, 15.4, 98.9, 16.7, 96.8, 17.2, 96.8, 18.7, 100.7, 19.6, 99.7, 21.8, 102.2, 22.3, 103.9, 20.9],
        [79.4, 5.8, 78.9, 6.2, 78.4, 5.8, 78.9, 5.5, 79.4, 5.8],
        [78.1, 18, 77.7, 18.1, 77.3, 18, 77.7, 17.9, 78.1, 18],
        [75, 12.3, 76.2, 11.9, 78.6, 8.7, 76.9, 7.3, 75, 10.4],
        [78, 4.6, 78.7, 4, 78.7, 0.1],
        [78, 4.6, 77.5, 4, 77.6, 2.6, 77.3, 1, 75, 0.2],
    ],
    "200 km": [
        [102.9, 22.8, 101.2, 23.8, 100.4, 23.9, 98.8, 23.1, 98.5, 21.6, 99, 21, 98.3, 19.6, 98.8, 19.3, 100.5, 19.6, 99.8, 20.4, 99.7, 21.9, 101.6, 22.4, 102.9, 22.8],
        [96.1, 18.4, 94.6, 16.7, 91.7, 15.5, 89.5, 13.9, 83.6, 7.8, 83.9, 7.3, 86.5, 9.9, 91, 13.9, 93.2, 13.9, 94.9, 14.8, 96.4, 16.5, 96.4, 17.3, 96.1, 18.4],
        [104.6, 21.8, 104.2, 22.2, 103.5, 21.7, 104.1, 21.1, 104.6, 21.8],
        [83.2, 6.8, 82.6, 7, 82.5, 6.7, 83, 6.5, 83.2, 6.8],
        [75, 12, 76.1, 11.5, 78.2, 8.7, 77, 7.9, 76.1, 9.8, 75, 10.9],
        [78, 4.6, 78.7, 4, 78.7, 0.1],
        [78, 4.6, 77.6, 3.6, 77.6, 2.6],
    ],
    "trench": [[104.8, 20.4, 104.2, 19.3, 102, 17.7, 93.7, 13.8, 82.2, 5.3], [80.5, 7.1, 78.1, 5.2, 77.7, 3.2, 79.9, 0], [77, 7.7, 75, 10.4], [78, 4.6, 75.6, 0]],
}
H = {
    "Ridge": [
        [105, 16.8, 104, 16.5, 104.1, 14, 103.3, 11.5, 103.1, 9.5, 104.1, 8.8, 104.1, 7.2, 102.8, 7.2, 102.2, 1.4, 102.3, 0],
        [103.1, 18.1, 104, 16.5],
        [105, 12.3, 103.4, 11.5],
        [102.2, 1.4, 99.3, 1.1, 96.1, 1.1, 93.8, 0.5, 93.1, 0],
        [88.4, 0.1, 87.5, 1, 85.8, 0.9, 85.1, 6.8, 84.1, 6.9],
    ],
    "40 km": [
        [105, 19.1, 104, 19.8, 103.9, 18.6, 102.6, 17.7, 102.2, 16.5, 99.3, 14.9, 97.3, 14.8, 97, 13.8, 98.3, 10.7, 98.3, 9.9, 97, 8.8, 95, 8.2, 93.9, 6.8, 91.9, 6.4, 90.2, 4.6, 87.9, 5.7, 86.2, 7, 84.1, 6.9, 82.4, 5.3, 78.1, 4.9],
        [90.4, 13.8, 88.7, 13.8, 87, 12.6, 85.8, 10.6, 85.9, 10.2],
        [82, 0.2, 80.1, 1.2, 79.1, 3.4, 78.3, 1.3, 77.3, 1.3, 75.8, 3.7, 75.8, 5.6, 75, 5.9],
        [78.5, 8.7, 78.2, 7.9, 77, 8.2, 75.5, 7, 75.8, 6.7, 77.7, 5.1],
        [101.3, 19.1, 101, 19.1],
        [89.3, 10.8, 88.3, 10.9, 88.1, 10.4],
        [87.5, 9.8, 86.5, 10, 85.8, 9.6, 86.8, 9.5],
    ],
    "80 km": [
        [105, 24.4, 103.5, 22.9, 104.5, 21.8, 103.9, 20.6, 102.4, 20.1, 100.7, 18.8, 102.1, 18.1, 101.2, 17, 97.3, 15.2, 95.4, 14.3, 90, 11.3, 84.7, 7.2, 82.7, 5.9, 78, 5.4],
        [100.3, 17.9, 99, 18, 98.6, 17.6, 99, 17, 100.3, 17.4, 100.3, 17.9],
        [103.3, 18.7, 103, 19, 102.7, 18.6, 103, 18.5, 103.3, 18.7],
        [90.4, 13.6, 87.5, 13.9, 85.5, 11.5, 85.5, 10.1],
        [78.9, 7.7, 77.6, 7.5, 77, 8.2, 75.7, 6.8, 76.7, 5.7, 78, 5.1],
        [75, 4.2, 75.5, 2, 77.2, 0.9],
        [82.9, 17.7, 81.3, 17.7],
        [87.3, 9.9, 86.4, 9.5, 85.6, 9.5],
    ],
    "120 km": [
        [104.1, 24.9, 102.9, 23.9, 102.9, 23.1, 104, 22.2, 104.1, 21.3, 101.1, 21.4, 100.5, 19, 97.5, 18.6, 97.3, 16.7, 98.1, 16.9, 97.5, 15.4, 95, 14, 91, 13.9, 88.1, 14.5, 85.9, 14.1, 84.6, 11.5, 84.4, 10.6],
        [100.4, 24.9, 100.1, 23.9, 98.9, 23.8, 99.4, 24.9],
        [101.5, 17.6, 101, 18, 100.8, 17.3, 101.5, 17.6],
        [85, 17.7, 83.1, 18.8, 81.1, 18.7, 80.3, 19.5, 79, 19.5, 77.4, 18.7, 79.8, 17.4, 81, 16.7, 76.5, 15.8, 76.5, 14.5, 78, 13.4, 80.2, 12.6, 81.3, 13.6, 82.4, 15.7],
        [85, 17.7, 82.1, 16.7, 83, 16],
        [86.3, 15.6, 84.8, 15.7],
        [83.5, 15.7, 83, 15.6],
        [80, 12.5, 80.4, 11.8, 79.7, 10.4, 78.5, 11.8, 80, 12.5],
        [79.7, 8.6, 78.4, 8.8, 77.5, 7.5, 77.2, 5.9],
        [75, 2.4, 76.7, 0.9],
        [88.6, 9.9, 87, 10.1, 85.7, 9.6],
        [89.9, 11.6, 85.9, 8.8, 81.8, 6.2],
    ],
    "160 km": [
        [97.7, 16.7, 97.1, 17.9, 100.1, 19.2, 100.2, 19.7, 99, 21.6, 96.2, 18.8, 93.8, 17.4, 89.5, 15.7, 89.9, 14.6, 92.1, 14, 94.9, 14, 97.7, 16.7],
        [104.3, 21.9, 102.1, 23.8, 101.2, 23.6, 100, 22.8, 102.9, 21.2, 104.3, 21.9],
        [85.3, 8.9, 84, 9.3, 81.6, 7, 82.3, 6.5, 84.6, 7.4, 85.3, 8.9],
        [90.5, 13, 90, 13.6, 89.4, 11.8, 90.1, 11.4, 90.5, 13],
        [89.4, 10.8, 88.7, 11.1, 88.1, 10.6, 89, 10.2, 89.4, 10.8],
        [88.1, 9.8, 87, 10.2, 85.7, 9.8, 86.4, 9.2, 87.6, 9.3, 88.1, 9.8],
        [79.7, 6.8, 79.1, 7.2, 78.5, 6.8, 79, 6.3, 79.7, 6.8],
        [75, 13.4, 76.7, 12.9, 79, 9.7, 78.2, 8.7, 75, 11.7],
        [75, 0.9, 76.6, 0.5],
        [104.9, 19.5, 104.6, 19.2, 105, 18.9],
    ],
    "200 km": [
        [97.1, 16.7, 96.1, 17.9, 93.3, 16.6, 91.8, 15.2, 90.7, 15, 91.2, 14.5, 93, 14, 95, 14, 96.3, 15.4, 97.1, 16.7],
        [103.8, 21.8, 103.1, 22.3, 102.3, 21.8, 103, 21.2, 103.8, 21.8],
        [90.4, 13, 90, 13.5, 89.5, 11.8, 90.1, 11.6, 90.4, 13],
        [89.3, 10.8, 88.7, 11.1, 87.8, 10.8, 88.1, 10.4, 89.1, 10.3, 89.3, 10.8],
        [88, 9.8, 87, 10.1, 85.6, 9.8, 86.4, 9.3, 87.6, 9.4, 88, 9.8],
        [75, 12.9, 76.4, 12.5, 78.8, 9.8, 78, 8.8, 75, 11.6],
        [78.5, 0, 78.5, 0.9, 78.1, 1.6, 76.1, 0],
        [101.2, 22.9, 100.9, 22.9, 100.9, 22.7, 101.2, 22.7, 101.2, 22.9],
    ],
    "trench": [[105, 19.3, 102, 17.2], [96.3, 15.4, 81.8, 5.9], [80.3, 7.8, 78, 5.4, 77.8, 4.9, 80.5, 0], [77.1, 8.3, 75, 11.2]],
}
I = {
    "Ridge": [
        [104.8, 14.8, 103.9, 11.5, 103.6, 9.8, 104.3, 9.7, 104.3, 8, 102.8, 8, 102.1, 2.8, 102, 1, 102.3, 0],
        [102.1, 2.8, 100.8, 1.6, 102, 1.2],
        [102.1, 2.8, 101.3, 2, 100.6, 2.2, 95.6, 2.4, 90.7, 1.8, 90.6, 0.9, 87, 0.7, 85.3, 0.8, 84.7, 3, 82.9, 3, 82.9, 7.2],
        [105, 18.4, 104.7, 18.2],
    ],
    "40 km": [
        [104.9, 19.9, 104.1, 18.8, 104.9, 17.7, 100, 14.9, 98.1, 14.6, 97, 13.6, 98.1, 11.8, 98, 10.6, 94.2, 8.2, 91, 5.5, 86.5, 6.5, 84.4, 6.8, 81, 5.4, 79.4, 5.8, 79.4, 4, 78.9, 3.7, 78, 5.4],
        [82, 0, 80.7, 2, 80.6, 3, 80, 3.4, 78.8, 2, 78.8, 1.6, 77.3, 1.6, 75.8, 4.8, 76.1, 6],
        [78.4, 8.7, 77.7, 8.2, 75.1, 6.5],
        [92.1, 13.8, 87.6, 13.6, 85.9, 11.3, 85, 9.3],
    ],
    "80 km": [
        [104.9, 23.7, 103.7, 22.7, 104.4, 20.9, 103, 20.2, 102.4, 19.6, 98.9, 18, 98.8, 17.3],
        [103, 19.2, 103.8, 17.9, 100, 15.3, 91.5, 12.1, 85.3, 8.4, 81.5, 6.1, 78.1, 6.4, 75.7, 7, 76.1, 7.9, 77.7, 7.9],
        [92.1, 13.6, 87.3, 14, 85.9, 12.7, 84.9, 10.2, 85.3, 9.3],
        [79.3, 1.7, 79.3, 0.1],
        [75.6, 3.1, 75.9, 1.7, 77.3, 0.9, 77.8, 0],
        [89.5, 10.7, 88.9, 11.2, 88.4, 10.7, 88.9, 10.2, 89.5, 10.7],
        [88.3, 9.9, 87.6, 10.1, 86.7, 9.4, 88.1, 9.4, 88.3, 9.9],
        [83.4, 17.7, 82.7, 17.7],
    ],
    "120 km": [
        [104.7, 24.9, 103.6, 24.2, 102.8, 22.5, 103.3, 21.8, 102.7, 21.4, 100.8, 21.1, 100.4, 19.6, 97.9, 18.4, 97.4, 18],
        [101, 24.9, 99.9, 23.8, 100, 24.9],
        [103.7, 17.8, 102, 17.8],
        [85.1, 17.9, 82.4, 18.7, 80.7, 19.3, 77.7, 18.8, 80.7, 17.7, 80.8, 17.6, 79, 16.7, 76.1, 15.8, 80, 13, 81.3, 14, 82, 16.6, 85.1, 17.9],
        [91.6, 13.9, 87.6, 15.7, 86.1, 15.6, 86, 14.6, 84.1, 13.2, 83.7, 10.7, 85.1, 9],
        [100.1, 15.3, 91.3, 11.5, 85, 8.5, 81, 6.2, 77.5, 6.5, 77.3, 7, 79.4, 9, 78.4, 9.8],
        [78.1, 1.1, 75, 3.1],
    ],
    "160 km": [
        [100, 20, 99, 20.7, 97.6, 18.8, 97.4, 17.9, 94.7, 17.9, 93.1, 16.9, 90.1, 15.7, 90.4, 14.6, 91.4, 13.8],
        [101.4, 16.7, 99.3, 15.4, 96.4, 15, 93.6, 14, 91, 12.2],
        [102, 23.4, 100.9, 22.9, 101.7, 21.7, 103.1, 21.7, 103.3, 21.8, 102, 23.4],
        [99.9, 21.9, 99.8, 21.6, 100.1, 21.4, 99.9, 21.9],
        [93.1, 22.9, 92.9, 22.9, 92.9, 22.6, 93.1, 22.6, 93.1, 22.9],
        [85.7, 8.7, 84.1, 9.3, 81.9, 8.7, 81.7, 10.1, 81, 10.1, 80.4, 8.5, 82, 8],
        [79.8, 7.3, 79.3, 8, 77.7, 6.4, 79, 6.4, 79.8, 7.3],
        [75, 14, 77.3, 13.5, 79, 10.7, 78, 10.3, 75, 12.5],
        [79.3, 1.1, 78.3, 0.6, 78.3, 0],
        [75, 1.7, 76.4, 0.9, 76.7, 0],
        [78.3, 17.9, 77.3, 18, 76.8, 17.7, 78, 17.3, 78.3, 17.9],
        [89.3, 10.7, 88.9, 11.1, 88.5, 10.7, 88.9, 10.3, 89.3, 10.7],
    ],
    "200 km": [
        [101.4, 17.1, 99, 17.2, 96.1, 17.5, 94.7, 16.4, 93.6, 16.2, 91.1, 14.7, 91.4, 13.8, 90.8, 12.6, 93.6, 14, 96.1, 14.7, 96.9, 16, 99.3, 15.4, 101.4, 17.1],
        [102.7, 21.9, 102.1, 22.1, 101.9, 21.8, 102.3, 21.6, 102.7, 21.9],
        [89.3, 10.7, 88.9, 11.1, 88.5, 10.7, 88.9, 10.3, 89.3, 10.7],
        [88.2, 9.9, 87.6, 10.1, 86.9, 9.6, 88, 9.4, 88.2, 9.9],
        [85.9, 8.7, 84.9, 9, 84.1, 9, 83.6, 8.7, 84.6, 8.3, 85.9, 8.7],
        [82.7, 7.2, 81, 6.6],
        [75, 13.6, 77, 13.1, 78.8, 10.5, 78, 10.2, 75, 12.4],
        [79, 0.6, 78, 0],
    ],
    "trench": [[104.8, 18.6, 99.2, 15.6, 85.5, 9.2, 81, 6.6], [79.8, 8.7, 78, 5.7, 78, 4.4, 81, 0], [77, 9.4, 75, 11.4]],
}

HEAT = [
    {25: "100m 99d 98m 97f", 24: "98m 97l 96m", 23: "96m 95m", 22: "95l 94m", 21: "94m 93m", 20: "94l 93m", 19: "94m 93m", 18: "94m 93m", 17: "94l 93m", 16: "94l 93m", 15: "94l 93m 92l", 14: "93m 92m", 13: "92m 91m", 12: "92l 91m 90l", 11: "91m 90m", 10: "91l 90m", 9: "90d 89d", 8: "90m 89d 88l", 7: "89m 88m 87l", 6: "88d 87m", 5: "88l 87m 86l", 4: "87l 86l 85f", 3: "86f 85m 84l 83l 82l 80l 79l 78l 77l", 2: "84l 83m 82m 81m 80m 79m 78m 77m 76l", 1: "83l 82l 81m 80m 79l 78f 76m 75l", 0: "76l 75d"},
    {25: "99m 98d 97f", 24: "98l 97l", 23: "97l 96d 95m", 22: "96l 95d 94m", 21: "94m 95f", 20: "94l 93l", 19: "94l 93l", 18: "93m 94l", 17: "94l 93m", 16: "93d 92m", 15: "92m 91l", 14: "92l 91m", 13: "91m 90l", 12: "91l 90m", 11: "91m 90m", 10: "90m 89l", 9: "90l 89d", 8: "89m 88l", 7: "89l 88m 87l", 6: "88m 87m", 5: "88l 87m 86l", 4: "87m 86m", 3: "86l 85m 84l", 2: "85m 84m 83m 82l 77l 76l", 1: "83m 82m 81m 80m 79m 78l 77m 76l 75l", 0: "79m 78m 77m 76d 75l"},
    {25: "100f 99d 98f", 24: "97m 96m", 23: "97l 96d 95l", 22: "96d 95d 94l", 21: "96d 95d", 20: "96m 95m 94l", 19: "94m 93l", 18: "94m 93l", 17: "94l 93m 92l 81f", 16: "93m 92m 91l", 15: "93l 92m 91m", 14: "92l 91m 90m", 13: "91l 90l", 12: "90l 89l", 11: "90l 89l", 10: "89m 88l", 9: "89l 88m 87l", 8: "88m 87l 75l", 7: "87m 86l 75d", 6: "87l 86m 85l 76m 75d", 5: "86l 85m 84l 76m 75d", 4: "85l 84l 75m 76l", 3: "84l 83m 82l", 2: "82m 81m 80l 79f", 1: "80m 79l 78l 76l 75l", 0: "77m 76d 75m"},
    {25: "102l 101l 99l", 24: "101m 100l 99m 98m", 23: "98l 97m", 22: "98l 97d 96l", 21: "97l 96d 95l", 20: "96m 95m 94l", 19: "95m 94m 93l", 18: "94m 93l", 17: "94d 93m", 16: "94m 93d 92m 91m 90l", 15: "94l 93l 92m 91m 90m 89l", 14: "90m 89l", 13: "90l 89l", 12: "90l", 11: "90l 89l", 10: "90l 89m 88l", 9: "88m 87l 75m 76l", 8: "88l 87m 86l 76d 75m 77l", 7: "87m 86m 85l 76d 77m", 6: "86l 85m 84l 77m 76m", 5: "86l 85l 84l 76l", 4: "84l 83m 82m 77l 76l", 3: "84l 83l 82m 81m 80l 76m 75l", 2: "81l 80l 76m 75m", 1: "75m 76l", 0: "75d"},
    {25: "103l 102l 101m 100l", 24: "101m 100m 99l", 23: "101m 100m 99m 98l", 22: "99l 98m 97l", 21: "98l 97l", 20: "96m", 19: "96l", 18: "95m 94l", 17: "96m 95x 94m 93l", 16: "96m 95m 94d 93d 92m 91l", 15: "93m 92m 91m 90l", 14: "91l 90m", 13: "90m", 12: "90l", 11: "90l 89l", 10: "89l 88m 75m", 9: "88m 87l 76m 75m", 8: "87l 86m 76d 75m", 7: "86m 85m 77m 76m", 6: "85m 84m 83l", 5: "84l 83m 78l", 4: "82l 81l 78m 77l", 3: "78m 77m", 2: "77m 76m", 1: "76m 75m", 0: "75d"},
    {25: "102l 101l", 24: "102l 101m 100m 105f", 23: "104x 103d 102m 101m 100m 99m", 22: "103m 102m 101l 99m 98m", 21: "99l 98m 97l", 20: "98f 97l", 19: "98l 97l 96l", 18: "99f 98l 97l 96l 95l", 17: "95m 94l", 16: "95m 94d 93d 92m 91l", 15: "93m 92m 91m 90l", 14: "91l 90l", 13: "90l 89m", 12: "89m 88l", 11: "88l 75m", 10: "88l 87m 76m 75m", 9: "87m 86m 77l 76d", 8: "86m 85m 84l 77m 76m", 7: "85l 84l 83f 77l", 6: "83f 82f", 5: "78l", 4: "78m", 3: "78d 77l", 2: "77m 76l", 1: "77l 76m", 0: "76m 75d"},
    {24: "101l 100l", 23: "103l 102m 101m 100m 99m", 22: "104m 100l 99d 98l", 21: "100l 99m 98l", 20: "99m 98m 97l", 19: "97l 96l", 18: "96l 95l", 17: "96m 95l", 16: "96m 95m 94d 93m 92m", 15: "94m 93d 92d 91m", 14: "93l 92l 91l 90l", 12: "75m", 11: "76m 75l", 10: "87l 86l 77d 76m", 9: "86m 85m 78l 77m 76m", 8: "85d 84m 77m", 7: "85l 84m 83l 81l", 6: "83l 82l", 4: "78l", 3: "78m 77l", 2: "78m 77l", 1: "78m 77m 76f", 0: "78d 77d"},
    {22: "102l", 21: "104m 103m 102l", 20: "99l 98l 97f", 19: "97f", 18: "96l", 17: "96d 95m 94l", 16: "96m 95d 94m 93l", 15: "94d 93m 92l", 14: "93f", 13: "75m 76l", 12: "90l 89l 77l 76m 75m", 11: "89l 88f 78l 77m 76m 75l", 10: "89l 88m 87f 78m 77d", 9: "87l 86l 78l 77m", 8: "85l 84l 83l 78l", 7: "84f 83l", 6: "78f", 5: "78l", 4: "78l", 1: "78l", 0: "78m 77m 76l 75f"},
    {21: "103l", 17: "101l 100l 96m 95m", 16: "101l 100m 99m 98m 97m 96d 95d 94l 93m 92l", 15: "100l 99l 94m 93m 92m 91m", 14: "92m 91m", 13: "91f 76m 75m", 12: "90l 89l 77m 76m 75l", 11: "89l 88l 78l 77m 76l", 10: "88l 78m 77l", 9: "87l 86l", 8: "85l 84l", 0: "79m 78m 77l 76l 75l"},
]
PANELS = [A, B, C, D, E, F, G, H, I]

LEGEND_NAMES = ["Ridge", "40 km", "80 km", "120 km", "160 km", "200 km"]
LINE_COLORS = {"Ridge": "#a020f0", "40 km": "#ff0000", "80 km": "#ffff00", "120 km": "#006400", "160 km": "#0000ff", "200 km": "#000000"}
LINE_WIDTHS = {"Ridge": 1.7, "40 km": 1.2, "80 km": 1.2, "120 km": 1.2, "160 km": 1.2, "200 km": 1.4}
DRAW_ORDER = ["40 km", "80 km", "120 km", "160 km", "200 km", "Ridge"]

color_scale = alt.Scale(domain=[0, 1400, 1600], range=["#0000ff", "#ffffff", "#ffdcdc"], interpolate="rgb")
# the latitude axis of the map is stretched (Mercator): 10N and 20N sit at 9.7 and 19.73 of the even scale used here
x_values, y_values = [100, 90, 80], [0, 9.7, 19.73]
one_row = alt.Data(values=[{"n": 1}])


def rows_of(lines, dx=0.0, dy=0.0):
    rows = []
    for k, flat in enumerate(lines):
        for j in range(0, len(flat), 2):
            rows.append({"lon": flat[j] + dx, "lat": flat[j + 1] + dy, "id": k, "o": j})
    return pd.DataFrame(rows)


def heat_rows(heat):
    rows = []
    for lat, text in heat.items():
        for item in text.split():
            lon = int(item[:-1])
            rows.append({"lon": lon + 0.5, "x2": lon - 0.5, "lat": lat - 0.5, "y2": lat + 0.5, "T": LEVELS[item[-1]]})
    return pd.DataFrame(rows)


def teeth(lines, step=1.22, lift=0.2):
    rows = []
    for flat in lines:
        pts = np.array(flat).reshape(-1, 2)
        seg = np.hypot(np.diff(pts[:, 0]), np.diff(pts[:, 1]))
        pos = step / 2
        walked = 0.0
        for i, s in enumerate(seg):
            while pos < walked + s and s > 0:
                f = (pos - walked) / s
                p = pts[i] + f * (pts[i + 1] - pts[i])
                east = -(pts[i + 1, 0] - pts[i, 0]) / s
                north = (pts[i + 1, 1] - pts[i, 1]) / s
                ne_e, ne_n = -north, east
                ang = math.degrees(math.atan2(ne_e, ne_n)) % 360
                rows.append({"lon": float(p[0]) - lift * ne_e, "lat": float(p[1]) + lift * ne_n, "ang": ang})
                pos += step
            walked += s
    return pd.DataFrame(rows)


def panel(i, w, h, view_w, view_h, left, bottom):
    x_scale = alt.Scale(domain=[105, 75], range=[0, w], nice=False, zero=False)
    y_scale = alt.Scale(domain=[0, 25], range=[h, 0], nice=False, zero=False)
    x_axis = alt.Axis(values=x_values, title=None, grid=False, domain=False, ticks=False, labels=bottom,
                      labelExpr="datum.value + '°W'", labelFontSize=18, labelFont=FONT, labelColor="#222",
                      labelPadding=5 - (view_h - h), offset=-(view_h - h) if view_h != h else 0)
    y_axis = alt.Axis(values=y_values, title=None, grid=False, domain=False, ticks=False, labels=left,
                      labelExpr="datum.value == 0 ? '0°' : round(datum.value / 10) * 10 + '°N'", labelFontSize=18, labelFont=FONT, labelColor="#222", labelPadding=7)
    X = alt.X("lon:Q", scale=x_scale, axis=x_axis)
    Y = alt.Y("lat:Q", scale=y_scale, axis=y_axis)
    data = PANELS[i]
    layers = []
    # background + cells
    edge = 0.0 if i < 3 else 0.5
    bg = pd.DataFrame([{"lon": 105 + edge, "x2": 75 - edge, "lat": 0 - edge, "y2": 25 + edge, "T": BACKGROUND_T[i]}])
    frame = pd.DataFrame([{"lon": 105, "x2": 75, "lat": 0, "y2": 25}])
    layers.append(alt.Chart(bg).mark_rect().encode(x=X, x2="x2:Q", y=Y, y2="y2:Q",
        color=alt.Color("T:Q", scale=color_scale, legend=None)))
    layers.append(alt.Chart(heat_rows(HEAT[i])).mark_rect().encode(x=X, x2="x2:Q", y=Y, y2="y2:Q",
        color=alt.Color("T:Q", scale=color_scale, legend=None)))
    # coast
    dx, dy = COAST_SHIFT[i]
    layers.append(alt.Chart(rows_of(COAST, dx, dy)).mark_line(color="#bdbdbd", strokeWidth=1.1, clip=True).encode(
        x=X, y=Y, detail="id:N", order="o:Q"))
    # contours
    for name in DRAW_ORDER:
        if name in data:
            layers.append(alt.Chart(rows_of(data[name])).mark_line(
                color=LINE_COLORS[name], strokeWidth=LINE_WIDTHS[name], clip=True).encode(
                x=X, y=Y, detail="id:N", order="o:Q"))
    # trench with teeth
    layers.append(alt.Chart(rows_of(data["trench"])).mark_line(color="#000000", strokeWidth=1, clip=True).encode(
        x=X, y=Y, detail="id:N", order="o:Q"))
    layers.append(alt.Chart(teeth(data["trench"])).mark_point(
        shape="triangle-up", size=16, filled=True, fill="#555555", stroke="#000000", strokeWidth=0.6, opacity=1, clip=True).encode(
        x=X, y=Y, angle=alt.Angle("ang:Q", scale=None)))
    # inward ticks
    layers.append(alt.Chart(pd.DataFrame({"lon": x_values})).mark_rule(color="#222", strokeWidth=1).encode(
        x=X, y=alt.value(h), y2=alt.value(h - 5)))
    layers.append(alt.Chart(pd.DataFrame({"lat": y_values})).mark_rule(color="#222", strokeWidth=1).encode(
        y=Y, x=alt.value(0), x2=alt.value(5)))
    # frame
    layers.append(alt.Chart(frame).mark_rect(fillOpacity=0, stroke="#222", strokeWidth=1.5).encode(
        x=X, x2="x2:Q", y=Y, y2="y2:Q"))
    # headers
    layers.append(alt.Chart(one_row).mark_text(align="left", baseline="middle", fontSize=17, font=FONT, color="#222").encode(
        x=alt.value(0), y=alt.value(-13), text=alt.value(LETTERS[i])))
    layers.append(alt.Chart(one_row).mark_text(align="center", baseline="middle", fontSize=18, font=FONT, color="#222").encode(
        x=alt.value(w / 2), y=alt.value(-13), text=alt.value(AGES[i])))
    if i == 0:
        layers.append(alt.Chart(one_row).mark_rect(fill="#ffffff", stroke="#111", strokeWidth=1.5).encode(
            x=alt.value(7), x2=alt.value(125), y=alt.value(194), y2=alt.value(h)))
        for k, name in enumerate(LEGEND_NAMES):
            yy = 210 + 15 * k
            layers.append(alt.Chart(one_row).mark_rule(color=LINE_COLORS[name], strokeWidth=1.8).encode(
                x=alt.value(63), x2=alt.value(114), y=alt.value(yy)))
            layers.append(alt.Chart(one_row).mark_text(align="right", baseline="middle", fontSize=12.8, font=FONT, color="#222").encode(
                x=alt.value(61), y=alt.value(yy), text=alt.value(name)))
    return alt.layer(*layers).resolve_scale(color="shared").properties(width=view_w, height=view_h)


# columns: plot widths 350, 349, 349 in cells 356, 349, 349; rows: plot heights 299, 299, 298 in cells 306, 304, 298
cells = []
for r, (h, vh) in enumerate([(299, 306), (299, 304), (298, 298)]):
    for c, (w, vw) in enumerate([(350, 356), (349, 349), (349, 349)]):
        cells.append(panel(3 * r + c, w, h, vw, vh, c == 0, r == 2))

blank = alt.Chart(one_row).mark_text(opacity=0).encode(x=alt.value(0), y=alt.value(0), text=alt.value(" ")).properties(width=356, height=31)

bar_df = pd.DataFrame({"t1": list(range(0, 1600, 10))})
bar_df["t2"] = (bar_df["t1"] + 14).clip(upper=1600)
bar_df["T"] = bar_df["t1"] + 5
bar_scale = alt.Scale(domain=[0, 1600], range=[33, 312], nice=False)
bar_axis = alt.Axis(values=[0, 400, 800, 1200, 1600], format="d", title="Temperature (°C)", grid=False, domain=False,
                    tickColor="#222", tickSize=6, tickWidth=1, labelFontSize=18, labelFont=FONT, labelColor="#222", labelFlush=False,
                    titleFontSize=19, titleFont=FONT, titleFontWeight="normal", titleColor="#222", labelPadding=8, titlePadding=5)
colorbar = alt.layer(
    alt.Chart(bar_df).mark_rect().encode(
        x=alt.X("t1:Q", scale=bar_scale, axis=bar_axis), x2="t2:Q",
        color=alt.Color("T:Q", scale=color_scale, legend=None)),
    alt.Chart(pd.DataFrame([{"t1": 0, "t2": 1600}])).mark_rect(fillOpacity=0, stroke="#222", strokeWidth=1.2).encode(
        x=alt.X("t1:Q", scale=bar_scale, axis=bar_axis), x2="t2:Q"),
).properties(width=349, height=31)

chart = alt.concat(*cells, blank, colorbar, columns=3, spacing={"row": 43, "column": 28}, bounds="flush", align="each").properties(
    padding={"left": 4, "top": 2, "right": -14, "bottom": -2}).configure_view(stroke=None)

chart.save("out.html", embed_options={"renderer": "svg", "actions": False})
